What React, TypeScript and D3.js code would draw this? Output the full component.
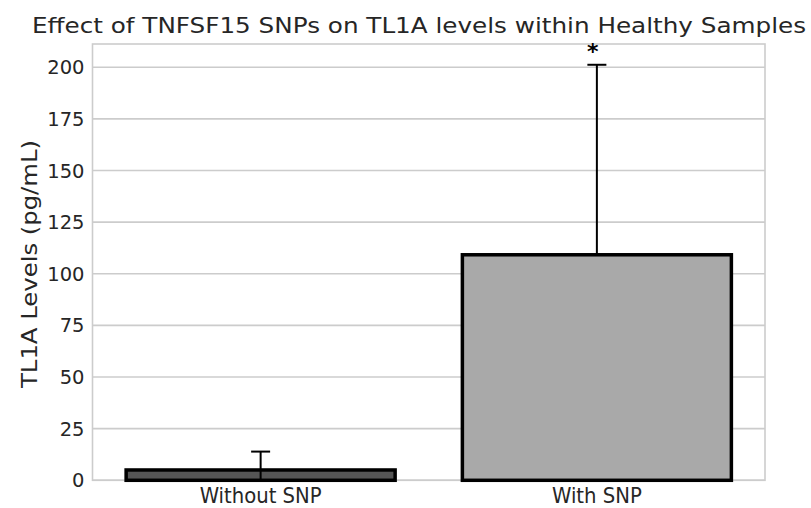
import React from "react";
import * as d3 from "d3";

const categories = ["Without SNP", "With SNP"];
const means = [5.0, 109.2];
const errLower = [5.0, 0];
const errUpper = [8.9, 92.0];
const barFills = ["#555555", "#a9a9a9"];
const yTicks = [0, 25, 50, 75, 100, 125, 150, 175, 200];
const significance = ["", "*"];
const title = "Effect of TNFSF15 SNPs on TL1A levels within Healthy Samples";
const yLabel = "TL1A Levels (pg/mL)";

const W = 811;
const H = 508;
const left = 92.5;
const right = 765;
const top = 44;
const bottom = 480.3;
const font = "'DejaVu Sans', sans-serif";

export default function App() {
  const x = d3.scaleLinear().domain([-0.5, categories.length - 0.5]).range([left, right]);
  const yMax = d3.max(means.map((m, i) => m + errUpper[i])) as number;
  const y = d3.scaleLinear().domain([0, yMax * 1.05]).range([bottom, top]);
  const barW = x(0.8) - x(0);
  const capW = 19;
  const xLabelLen = [122, 90];

  return (
    <svg
      width={W}
      height={H}
      style={{ position: "fixed", left: 0, top: 0, background: "#fff" }}
      fontFamily={font}
    >
      <rect x={0} y={0} width={W} height={H} fill="#fff" />
      {yTicks.map((t) => (
        <g key={t}>
          <line x1={left} x2={right} y1={y(t)} y2={y(t)} stroke="#cccccc" strokeWidth={1.6} />
          <text x={left - 8} y={y(t)} dy="0.36em" textAnchor="end" fontSize={19.5} fill="#262626">
            {t}
          </text>
        </g>
      ))}
      <rect x={left} y={top} width={right - left} height={bottom - top} fill="none" stroke="#cccccc" strokeWidth={1.6} />
      {categories.map((c, i) => {
        const cx = x(i);
        const lo = Math.max(0, means[i] - errLower[i]);
        const hi = means[i] + errUpper[i];
        return (
          <g key={c}>
            <rect
              x={cx - barW / 2}
              y={y(means[i])}
              width={barW}
              height={y(0) - y(means[i])}
              fill={barFills[i]}
              stroke="#000"
              strokeWidth={3.5}
            />
            <line x1={cx} x2={cx} y1={y(lo)} y2={y(hi)} stroke="#000" strokeWidth={2} />
            <line x1={cx - capW / 2} x2={cx + capW / 2} y1={y(hi)} y2={y(hi)} stroke="#000" strokeWidth={2} />
            {significance[i] && (
              <text x={cx - 4} y={y(hi) - 6} textAnchor="middle" fontSize={22} fontWeight="bold" fill="#000">
                {significance[i]}
              </text>
            )}
            <text
              x={cx}
              y={bottom + 22.2}
              textAnchor="middle"
              fontSize={21}
              fill="#262626"
              textLength={xLabelLen[i]}
              lengthAdjust="spacingAndGlyphs"
            >
              {c}
            </text>
          </g>
        );
      })}
      <text
        x={419}
        y={33}
        textAnchor="middle"
        fontSize={21}
        fill="#262626"
        textLength={774}
        lengthAdjust="spacingAndGlyphs"
      >
        {title}
      </text>
      <text
        transform={`translate(37,${264}) rotate(-90)`}
        textAnchor="middle"
        fontSize={21.5}
        fill="#262626"
        textLength={248}
        lengthAdjust="spacingAndGlyphs"
      >
        {yLabel}
      </text>
    </svg>
  );
}
